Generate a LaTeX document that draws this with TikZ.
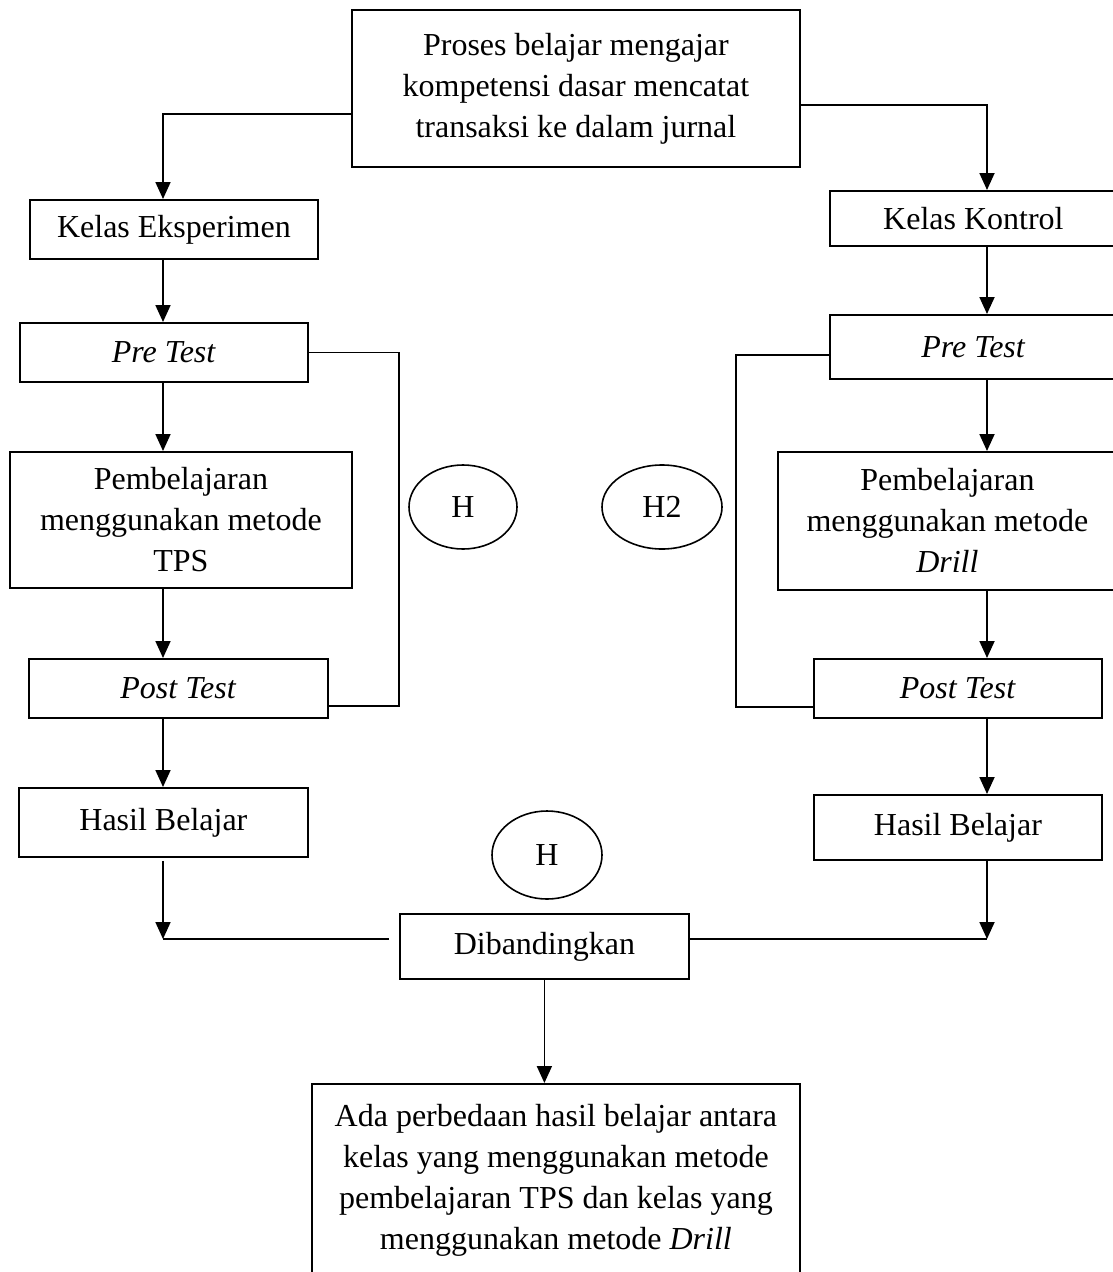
\documentclass[tikz,border=0pt]{standalone}
\usepackage{fontspec}
\setmainfont{Liberation Serif}
\usetikzlibrary{arrows.meta,shapes.geometric,positioning}
\begin{document}
\begin{tikzpicture}[x=1pt,y=-1pt,
  box/.style={draw,line width=1.8pt,align=center,inner sep=0pt,anchor=north west,
    font=\fontsize{32}{41}\selectfont},
  oval/.style={draw,ellipse,line width=1.6pt,inner sep=0pt,font=\fontsize{32}{41}\selectfont},
  arr/.style={line width=1.8pt,-{Triangle[width=15pt,length=17pt]}},
  ln/.style={line width=1.8pt},
  fb/.style={line width=1.4pt}]
\useasboundingbox (0,0) rectangle (1113,1272);
\fill[white] (0,0) rectangle (1113,1272);
% boxes
\node[box,minimum width=448pt,minimum height=157pt] (top) at (351,9)
  {Proses belajar mengajar\\kompetensi dasar mencatat\\transaksi ke dalam jurnal};
\node[box,minimum width=288pt,minimum height=59pt] (KE) at (29,199) {Kelas Eksperimen};
\node[box,minimum width=287pt,minimum height=55pt] (KK) at (829,190) {Kelas Kontrol};
\node[box,minimum width=288pt,minimum height=59pt] (PTL) at (19,322) {\textit{Pre Test}};
\node[box,minimum width=287pt,minimum height=64pt] (PTR) at (829,314) {\textit{Pre Test}};
\node[box,minimum width=342pt,minimum height=136pt] (PBL) at (9,451)
  {Pembelajaran\\menggunakan metode\\TPS};
\node[box,minimum width=339pt,minimum height=138pt] (PBR) at (777,451)
  {Pembelajaran\\menggunakan metode\\\textit{Drill}};
\node[box,minimum width=299pt,minimum height=59pt] (POL) at (28,658) {\textit{Post Test}};
\node[box,minimum width=288pt,minimum height=59pt] (POR) at (813,658) {\textit{Post Test}};
\node[box,minimum width=289pt,minimum height=69pt] (HBL) at (18,787) {Hasil Belajar};
\node[box,minimum width=288pt,minimum height=65pt] (HBR) at (813,794) {Hasil Belajar};
\node[box,minimum width=289pt,minimum height=65pt] (DB) at (399,913) {Dibandingkan};
\node[box,minimum width=488pt,minimum height=193pt] (BOT) at (311,1083)
  {Ada perbedaan hasil belajar antara\\kelas yang menggunakan metode\\pembelajaran TPS dan kelas yang\\menggunakan metode \textit{Drill}};
% ovals
\node[oval,minimum width=108pt,minimum height=84pt] (H1) at (463,507) {H};
\node[oval,minimum width=120pt,minimum height=84pt] (H2) at (662,507) {H2};
\node[oval,minimum width=110pt,minimum height=88pt] (H3) at (547,855) {H};
% helper coordinates
\coordinate (colL) at (163,0);
\coordinate (colR) at (987,0);
\coordinate (fbL) at (399,0);
\coordinate (fbR) at (736,0);
\coordinate (jY) at (0,939);
\coordinate (tw) at ([yshift=-25.5pt]top.west);
\coordinate (te) at ([yshift=-16.5pt]top.east);
\coordinate (ptr) at ([yshift=-8pt]PTR.west);
\coordinate (pol) at ([yshift=-17.5pt]POL.east);
\coordinate (por) at ([yshift=-18.5pt]POR.west);
\coordinate (hbl) at ([yshift=-3pt]HBL.south);
% top connectors
\draw[arr] (tw) -| (KE.north -| colL);
\draw[arr] (te) -| (KK.north -| colR);
% left column
\draw[arr] (KE.south -| colL) -- (PTL.north -| colL);
\draw[arr] (PTL.south -| colL) -- (PBL.north -| colL);
\draw[arr] (PBL.south -| colL) -- (POL.north -| colL);
\draw[arr] (POL.south -| colL) -- (HBL.north -| colL);
% right column
\draw[arr] (KK.south -| colR) -- (PTR.north -| colR);
\draw[arr] (PTR.south -| colR) -- (PBR.north -| colR);
\draw[arr] (PBR.south -| colR) -- (POR.north -| colR);
\draw[arr] (POR.south -| colR) -- (HBR.north -| colR);
% feedback lines
\draw[fb] (PTL.east) -- (PTL.east -| fbL) -- (pol -| fbL) -- (pol);
\draw[fb] (ptr) -- (ptr -| fbR) -- (por -| fbR) -- (por);
% bottom merge
\draw[arr] (hbl -| colL) -- (jY -| colL);
\draw[ln] (jY -| colL) -- ([xshift=-10pt]jY -| DB.west);
\draw[arr] (HBR.south -| colR) -- (jY -| colR);
\draw[ln] (jY -| DB.east) -- (jY -| colR);
\draw[arr] (DB.south) -- (DB.south |- BOT.north);
\end{tikzpicture}
\end{document}
